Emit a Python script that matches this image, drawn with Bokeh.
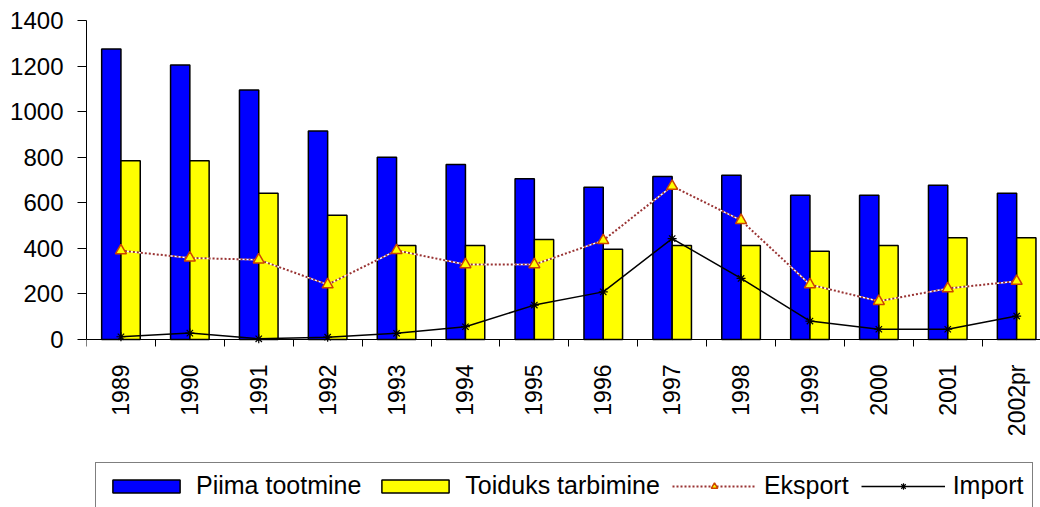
import math
from bokeh.plotting import figure
from bokeh.models import Range1d, FixedTicker, Legend, LegendItem, ColumnDataSource
from bokeh.embed import file_html
from bokeh.resources import INLINE

years = ["1989", "1990", "1991", "1992", "1993", "1994", "1995",
         "1996", "1997", "1998", "1999", "2000", "2001", "2002pr"]
piima_tootmine = [1275, 1205, 1095, 915, 800, 768, 705, 668, 715, 721, 633, 633, 677, 642]
toiduks_tarbimine = [785, 785, 642, 545, 413, 413, 439, 396, 413, 413, 387, 413, 447, 447]
eksport = [390, 358, 350, 241, 391, 329, 329, 435, 673, 523, 241, 168, 224, 256]
import_ = [12, 28, 3, 10, 27, 56, 151, 209, 443, 268, 81, 45, 45, 103]
y_ticks = [0, 200, 400, 600, 800, 1000, 1200, 1400]

n = len(years)
centers = [i + 0.5 for i in range(n)]
bw = 0.28

src = ColumnDataSource(dict(
    xc=centers,
    xb=[c - bw / 2 for c in centers],
    xy=[c + bw / 2 for c in centers],
    piima=piima_tootmine,
    toiduks=toiduks_tarbimine,
    eksport=eksport,
    imp=import_,
))

FONT = "Liberation Sans"

# frame runs from the 1400 line down to the bottom of the picture; the value axis
# covers 0..1400 only, the category axis is pinned at y = 0
Y_MIN = -737.3
p = figure(width=1040, height=507, x_range=Range1d(0, 13.846), y_range=Range1d(Y_MIN, 1400),
           output_backend="svg", toolbar_location=None,
           min_border_left=86, min_border_right=0, min_border_top=20, min_border_bottom=0)
p.outline_line_color = None
p.background_fill_color = "white"
p.border_fill_color = "white"
p.xgrid.visible = False
p.ygrid.ticker = FixedTicker(ticks=[1400])
p.ygrid.grid_line_color = "#8c8c8c"
p.ygrid.grid_line_width = 2

r_blue = p.vbar(x="xb", width=bw, top="piima", bottom=0, source=src,
                fill_color="#0000FF", line_color="black", line_width=1.5)
r_yel = p.vbar(x="xy", width=bw, top="toiduks", bottom=0, source=src,
               fill_color="#FFFF00", line_color="black", line_width=1.5)

p.line(x="xc", y="eksport", source=src, line_color="white", line_width=1.5)
r_eks_line = p.line(x="xc", y="eksport", source=src, line_color="#993333",
                    line_width=2, line_dash="2 2")
r_eks_pts = p.scatter(x="xc", y="eksport", source=src, marker="triangle", size=11,
                      fill_color="#FFFF00", line_color="#CC4400", line_width=1.5)

r_imp_line = p.line(x="xc", y="imp", source=src, line_color="black", line_width=1.5)
r_imp_pts = p.scatter(x="xc", y="imp", source=src, marker="asterisk", size=9,
                      line_color="black", line_width=1.2)

# y axis
ya = p.yaxis[0]
ya.ticker = FixedTicker(ticks=y_ticks)
ya.bounds = (0, 1400)
ya.major_label_text_font = FONT
ya.major_label_text_font_size = "24px"
ya.major_label_text_color = "black"
ya.major_tick_out = 9
ya.major_tick_in = 0
ya.minor_tick_line_color = None
ya.axis_line_color = "black"
ya.major_tick_line_color = "black"
ya.major_label_standoff = 14

# x axis
xa = p.xaxis[0]
xa.fixed_location = 0
xa.ticker = FixedTicker(ticks=centers, minor_ticks=list(range(n)))
xa.major_label_overrides = {c: y for c, y in zip(centers, years)}
xa.major_label_orientation = math.pi / 2
xa.major_tick_line_color = None
xa.major_tick_out = 7
xa.major_tick_in = 0
xa.minor_tick_out = 7
xa.minor_tick_in = 0
xa.minor_tick_line_color = "black"
xa.axis_line_color = "black"
xa.major_label_standoff = 18
xa.major_label_text_font = FONT
xa.major_label_text_font_size = "23px"
xa.major_label_text_color = "black"

legend = Legend(items=[
    LegendItem(label="Piima tootmine", renderers=[r_blue]),
    LegendItem(label="Toiduks tarbimine", renderers=[r_yel]),
    LegendItem(label="Eksport", renderers=[r_eks_line, r_eks_pts]),
    LegendItem(label="Import", renderers=[r_imp_line, r_imp_pts]),
], location=(9, -2), orientation="horizontal",
    glyph_width=84, glyph_height=16, label_standoff=8, spacing=12, padding=8, margin=0,
    border_line_color="black", border_line_width=1,
    label_text_font=FONT, label_text_font_size="25px", label_text_color="black",
    background_fill_color="white", background_fill_alpha=1)
p.add_layout(legend, "center")

open("out.html", "w").write(file_html(p, INLINE))
